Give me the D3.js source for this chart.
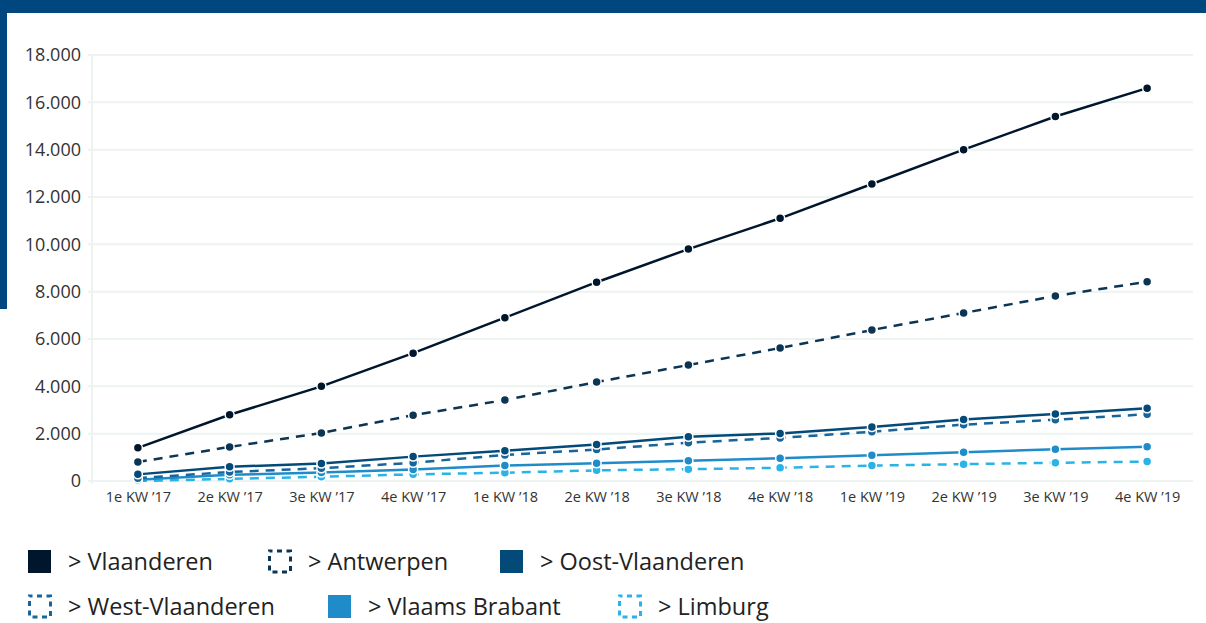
<!DOCTYPE html>
<html>
<head>
<meta charset="utf-8">
<script src="https://cdn.jsdelivr.net/npm/d3@7"></script>
<style>
  body { margin: 0; background: #fff; }
  svg { display: block; font-family: "Open Sans", "Noto Sans", sans-serif; }
</style>
</head>
<body>
<svg id="chart"></svg>
<script>
const categories = ["1e KW ’17", "2e KW ’17", "3e KW ’17", "4e KW ’17",
                    "1e KW ’18", "2e KW ’18", "3e KW ’18", "4e KW ’18",
                    "1e KW ’19", "2e KW ’19", "3e KW ’19", "4e KW ’19"];
const yTicks = [0, 2000, 4000, 6000, 8000, 10000, 12000, 14000, 16000, 18000];

const vlaanderen     = [1400, 2800, 4000, 5400, 6900, 8400, 9800, 11100, 12550, 14000, 15400, 16600];
const antwerpen      = [800, 1440, 2030, 2780, 3420, 4180, 4900, 5620, 6380, 7100, 7820, 8420];
const oostVlaanderen = [280, 600, 740, 1030, 1280, 1540, 1870, 2010, 2280, 2600, 2830, 3070];
const westVlaanderen = [120, 380, 540, 770, 1100, 1330, 1620, 1820, 2080, 2380, 2590, 2820];
const vlaamsBrabant  = [50, 260, 360, 490, 650, 750, 860, 960, 1085, 1210, 1340, 1450];
const limburg        = [0, 90, 180, 280, 350, 450, 500, 560, 650, 710, 770, 820];

const series = [
  { name: "> Vlaanderen", values: vlaanderen, color: "#00162c", dashed: false },
  { name: "> Antwerpen", values: antwerpen, color: "#0c3554", dashed: true },
  { name: "> Oost-Vlaanderen", values: oostVlaanderen, color: "#044a78", dashed: false },
  { name: "> West-Vlaanderen", values: westVlaanderen, color: "#17659b", dashed: true },
  { name: "> Vlaams Brabant", values: vlaamsBrabant, color: "#1f8cc9", dashed: false },
  { name: "> Limburg", values: limburg, color: "#2ab3e6", dashed: true }
];

const width = 1206, height = 623;
const margin = { top: 55, right: 13, bottom: 142, left: 92 };
const innerW = width - margin.left - margin.right;
const innerH = height - margin.top - margin.bottom;

const svg = d3.select("#chart").attr("width", width).attr("height", height);

// frame bars
svg.append("rect").attr("x", 0).attr("y", 0).attr("width", width).attr("height", 13).attr("fill", "#00467f");
svg.append("rect").attr("x", 0).attr("y", 0).attr("width", 7).attr("height", 309).attr("fill", "#00467f");

const chart = svg.append("g").attr("transform", `translate(${margin.left}, ${margin.top})`);

const x = d3.scalePoint().domain(categories).range([0, innerW]).padding(0.5);
const y = d3.scaleLinear().domain([0, 18000]).range([innerH, 0]);

// gridlines
chart.append("g").selectAll("line").data(yTicks).enter().append("line")
  .attr("x1", -4).attr("x2", innerW)
  .attr("y1", d => y(d)).attr("y2", d => y(d))
  .attr("stroke", "#edf3f1").attr("stroke-width", 2);
chart.append("line").attr("x1", 0).attr("x2", 0).attr("y1", 0).attr("y2", innerH + 3)
  .attr("stroke", "#edf3f1").attr("stroke-width", 2);

const fmt = d3.formatLocale({ decimal: ",", thousands: ".", grouping: [3], currency: ["€", ""] }).format(",");

const yAxis = chart.append("g")
  .call(d3.axisLeft(y).tickValues(yTicks).tickFormat(fmt).tickSize(0).tickPadding(11))
  .attr("font-family", null);
yAxis.select(".domain").remove();
yAxis.selectAll("text").attr("font-size", "18px").attr("fill", "#333");

const xAxis = chart.append("g").attr("transform", `translate(0, ${innerH})`)
  .call(d3.axisBottom(x).tickSize(0).tickPadding(11))
  .attr("font-family", null);
xAxis.select(".domain").remove();
xAxis.selectAll("text").attr("font-size", "14.5px").attr("fill", "#333");

const line = d3.line().x((d, i) => x(categories[i])).y(d => y(d));

// draw from lowest to highest so the top series sits on top
series.slice().reverse().forEach(s => {
  chart.append("path")
    .datum(s.values)
    .attr("fill", "none")
    .attr("stroke", s.color)
    .attr("stroke-width", 2.5)
    .attr("stroke-dasharray", s.dashed ? "9,7" : null)
    .attr("d", line);
  chart.append("g").selectAll("circle").data(s.values).enter().append("circle")
    .attr("cx", (d, i) => x(categories[i]))
    .attr("cy", d => y(d))
    .attr("r", 4.5)
    .attr("fill", s.color)
    .attr("stroke", "#fff")
    .attr("stroke-width", 1.5);
});

// legend
const legendPos = [[28, 561], [268, 561], [500, 561], [28, 606], [328, 606], [618, 606]];
const legend = svg.append("g");
series.forEach((s, i) => {
  const [lx, ly] = legendPos[i];
  const g = legend.append("g").attr("transform", `translate(${lx}, ${ly})`);
  if (s.dashed) {
    g.append("rect").attr("x", 1.5).attr("y", -10).attr("width", 21).attr("height", 21)
      .attr("fill", "none").attr("stroke", s.color).attr("stroke-width", 3)
      .attr("stroke-dasharray", "5,4.5").attr("stroke-dashoffset", 2);
  } else {
    g.append("rect").attr("x", 0).attr("y", -11).attr("width", 23).attr("height", 23)
      .attr("fill", s.color);
  }
  g.append("text").attr("x", 40).attr("y", 1).attr("dy", "0.36em")
    .attr("font-size", "23.5px").attr("fill", "#222").text(s.name);
});
</script>
</body>
</html>
